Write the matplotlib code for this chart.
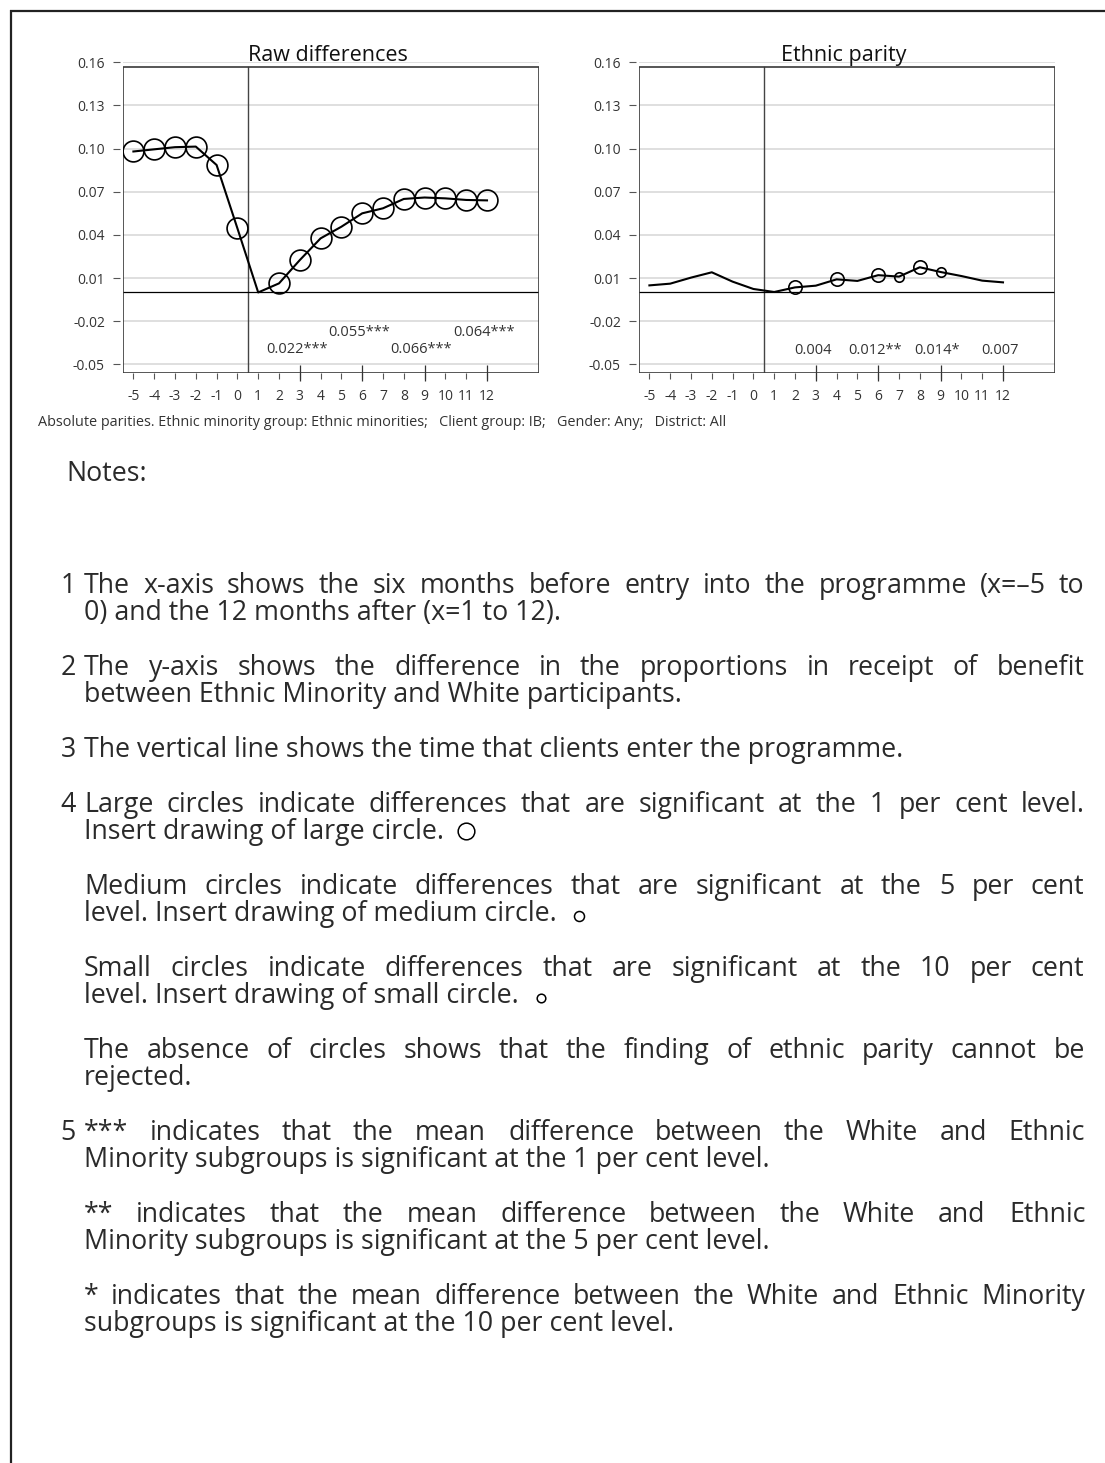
import matplotlib
matplotlib.use("Agg")
import matplotlib.pyplot as plt
from matplotlib.patches import Rectangle

plt.rcParams['font.family'] = ['Open Sans', 'DejaVu Sans']

# ==============================
# DATA
# ==============================
months = list(range(-5, 13))
month_labels = [str(m) for m in months]

raw_diff = [0.098, 0.0995, 0.101, 0.1014, 0.0886, 0.0446, 0.000, 0.0063, 0.0225,
            0.0376, 0.0457, 0.055, 0.0585, 0.065, 0.066, 0.0654, 0.0643, 0.064]
# circle size code: 0 none, 1 large (1%), 2 medium (5%), 3 small (10%)
raw_sig = [1, 1, 1, 1, 1, 1, 0, 1, 1, 1, 1, 1, 1, 1, 1, 1, 1, 1]

parity = [0.0049, 0.0061, 0.0103, 0.014, 0.0075, 0.0024, 0.0003, 0.0035, 0.0047,
          0.0091, 0.008, 0.012, 0.011, 0.0175, 0.0142, 0.0114, 0.0082, 0.007]
parity_sig = [0, 0, 0, 0, 0, 0, 0, 2, 0, 2, 0, 2, 3, 2, 3, 0, 0, 0]

y_ticks = [-0.05, -0.02, 0.01, 0.04, 0.07, 0.10, 0.13, 0.16]
y_labels = ["-0.05", "-0.02", "0.01", "0.04", "0.07", "0.10", "0.13", "0.16"]

raw_notes_x = [3, 6, 9, 12]
raw_notes = ["0.022***", "0.055***", "0.066***", "0.064***"]
parity_notes_x = [3, 6, 9, 12]
parity_notes = ["0.004", "0.012**", "0.014*", "0.007"]

caption = ("Absolute parities. Ethnic minority group: Ethnic minorities;   "
           "Client group: IB;   Gender: Any;   District: All")

# notes: (number, [(line, justified)], circle after last line)
notes = [
    ("1", [("The x-axis shows the six months before entry into the programme (x=\u20135 to", True),
           ("0) and the 12 months after (x=1 to 12).", False)], 0),
    ("2", [("The y-axis shows the difference in the proportions in receipt of benefit", True),
           ("between Ethnic Minority and White participants.", False)], 0),
    ("3", [("The vertical line shows the time that clients enter the programme.", False)], 0),
    ("4", [("Large circles indicate differences that are significant at the 1 per cent level.", True),
           ("Insert drawing of large circle.", False)], 1),
    ("", [("Medium circles indicate differences that are significant at the 5 per cent", True),
          ("level. Insert drawing of medium circle.", False)], 2),
    ("", [("Small circles indicate differences that are significant at the 10 per cent", True),
          ("level. Insert drawing of small circle.", False)], 3),
    ("", [("The absence of circles shows that the finding of ethnic parity cannot be", True),
          ("rejected.", False)], 0),
    ("5", [("*** indicates that the mean difference between the White and Ethnic", True),
           ("Minority subgroups is significant at the 1 per cent level.", False)], 0),
    ("", [("** indicates that the mean difference between the White and Ethnic", True),
          ("Minority subgroups is significant at the 5 per cent level.", False)], 0),
    ("", [("* indicates that the mean difference between the White and Ethnic Minority", True),
          ("subgroups is significant at the 10 per cent level.", False)], 0),
]

# ==============================
# FIGURE
# ==============================
W, H = 1105, 1463
fig = plt.figure(figsize=(W / 100, H / 100), dpi=100)

YMIN, YMAX, FRAME_TOP = -0.0563, 0.1605, 0.1567
circle_ms = {1: 15.0, 2: 9.6, 3: 6.8}


def px_axes(left, top, right, bottom):
    return fig.add_axes([left / W, 1 - bottom / H, (right - left) / W, (bottom - top) / H])


def draw_panel(ax, values, sig, title, labels, labels_y):
    ax.set_xlim(-5.5, 14.5)
    ax.set_ylim(YMIN, YMAX)
    for s in ax.spines.values():
        s.set_visible(False)
    ax.spines['left'].set_position(('outward', 2))
    frac = (FRAME_TOP - YMIN) / (YMAX - YMIN)
    ax.add_patch(Rectangle((0, 0), 1, frac, transform=ax.transAxes, fill=False,
                           ec='#3a3a3a', lw=1.2, zorder=3))
    ax.set_yticks(y_ticks)
    ax.set_yticklabels(y_labels)
    ax.grid(axis='y', color='#dcdcdc', lw=1.3, zorder=0)
    ax.set_axisbelow(True)
    ax.tick_params(axis='y', direction='out', length=5, width=0.8, color='#555555',
                   pad=6, labelsize=10, labelcolor='#333333')
    ax.set_xticks(months)
    ax.set_xticklabels(month_labels)
    ax.set_xticks([3, 6, 9, 12], minor=True)
    ax.xaxis.remove_overlapping_locs = False
    ax.tick_params(axis='x', which='major', direction='out', length=4, width=0.8,
                   color='#555555', pad=7, labelsize=10, labelcolor='#333333')
    ax.tick_params(axis='x', which='minor', direction='inout', length=11, width=0.9,
                   color='#333333')

    ax.plot([0.5, 0.5], [YMIN, FRAME_TOP], color='#444444', lw=1.0, zorder=2)
    ax.plot([-5.5, 14.5], [0, 0], color='black', lw=0.9, zorder=2)
    ax.plot(months, values, color='black', lw=1.5, zorder=4)
    for level, ms in circle_ms.items():
        xs = [m for m, s in zip(months, sig) if s == level]
        ys = [v for v, s in zip(values, sig) if s == level]
        if xs:
            ax.plot(xs, ys, 'o', ms=ms, mfc='none', mec='black', mew=1.2, zorder=5)

    for x, s, y in zip(labels[0], labels[1], labels_y):
        ax.text(x - 0.15, y, s, ha='center', va='center', fontsize=10.5, color='#333333')

    ax.text(4.35, 0.1609, title, ha='center', va='baseline', fontsize=15.5, color='#111111')


ax1 = px_axes(123, 61.6, 539, 373.4)
draw_panel(ax1, raw_diff, raw_sig, "Raw differences", (raw_notes_x, raw_notes),
           [-0.040, -0.028, -0.040, -0.028])
ax2 = px_axes(639, 61.6, 1055, 373.4)
draw_panel(ax2, parity, parity_sig, "Ethnic parity", (parity_notes_x, parity_notes),
           [-0.0405] * 4)

# ==============================
# TEXT LAYER (pixel coordinates)
# ==============================
tx = fig.add_axes([0, 0, 1, 1])
tx.set_xlim(0, W)
tx.set_ylim(H, 0)
tx.axis('off')

# page border (left and top)
tx.plot([11, 11], [10, H], color='#222222', lw=1.6, solid_capstyle='butt')
tx.plot([10, W], [11, 11], color='#222222', lw=1.6, solid_capstyle='butt')

tx.text(38, 426, caption, fontsize=10.4, color='#333333', va='baseline')

renderer = fig.canvas.get_renderer()
X0, X1 = 84, 1085
TEXT_COLOR = '#2a2a2a'

# pick the body size so the longest justified line still fits
BODY = 19.3
probe = tx.text(0, 0, notes[3][1][0][0], fontsize=BODY)
natural = probe.get_window_extent(renderer).width
probe.remove()
if natural > (X1 - X0) * 0.99:
    BODY = BODY * (X1 - X0) * 0.99 / natural

tx.text(66, 481, "Notes:", fontsize=BODY, color=TEXT_COLOR, va='baseline')


def draw_line(y, text, justify):
    if not justify:
        t = tx.text(X0, y, text, fontsize=BODY, color=TEXT_COLOR, va='baseline')
        return t.get_window_extent(renderer).x1
    # justified: place word by word across the column
    words = text.split(' ')
    arts = [tx.text(0, y, w, fontsize=BODY, color=TEXT_COLOR, va='baseline') for w in words]
    widths = [a.get_window_extent(renderer).width for a in arts]
    gap = (X1 - X0 - sum(widths)) / (len(words) - 1)
    x = X0
    for a, w in zip(arts, widths):
        a.set_x(round(x))
        x += w + gap
    return X1


LINE, PARA, FIRST = 27, 55, 593
note_ms = {1: 12.0, 2: 7.2, 3: 6.2}

y = FIRST
for num, lines, circ in notes:
    if num:
        tx.text(76, y, num, fontsize=BODY, color=TEXT_COLOR, va='baseline', ha='right')
    end = X0
    for i, (line, just) in enumerate(lines):
        if i:
            y += LINE
        end = draw_line(y, line, just)
    if circ:
        tx.plot([end + 22], [y - 8 + (circ > 1) * 3], 'o', ms=note_ms[circ],
                mfc='none', mec='black', mew=1.1)
    y += PARA

fig.savefig("out.png", dpi=100)
